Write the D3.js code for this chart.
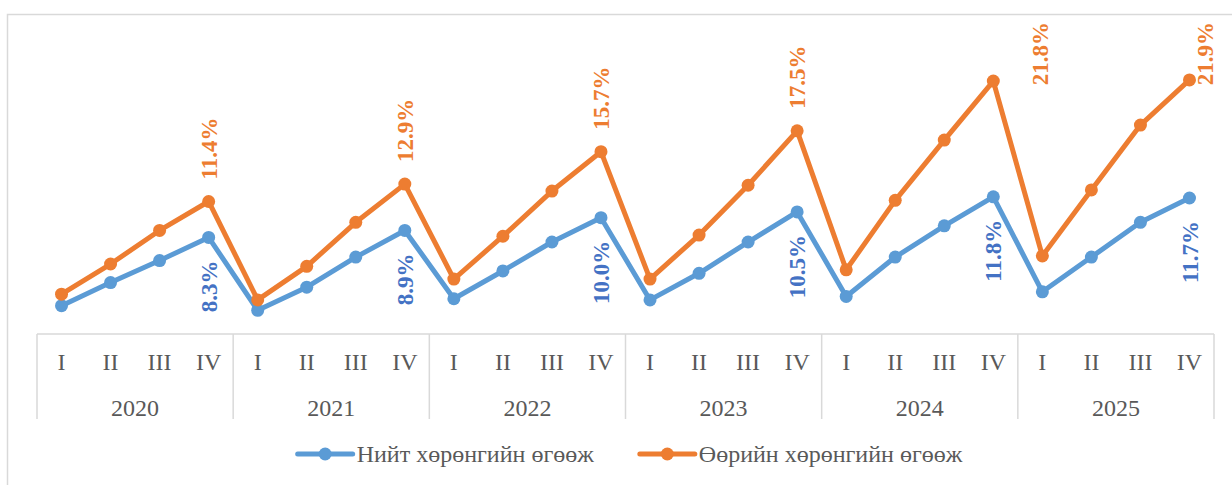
<!DOCTYPE html>
<html>
  <head>
    <meta charset="utf-8">
    <script src="https://unpkg.com/d3@7/dist/d3.min.js"></script>
    <style>
      body {
        margin: 0;
        background: #ffffff;
      }

      text {
        font-family: "Liberation Serif", "Times New Roman", serif;
      }

      .axis-label {
        fill: #595959;
        font-size: 24px;
        text-anchor: middle;
        dominant-baseline: central;
      }

      .grid {
        stroke: #d9d9d9;
        stroke-width: 1.5px;
        fill: none;
      }

      .series-line {
        fill: none;
        stroke-width: 5px;
        stroke-linejoin: round;
      }

      .value-label {
        font-size: 23px;
        font-weight: bold;
      }

      .legend-text {
        fill: #595959;
        font-size: 24px;
        dominant-baseline: central;
      }
    </style>
  </head>
  <body>
    <script>
      const years = ['2020', '2021', '2022', '2023', '2024', '2025'];
      const quarters = ['I', 'II', 'III', 'IV'];

      const totalAssets = [
        2.4, 4.4, 6.3, 8.3,
        2.0, 4.0, 6.6, 8.9,
        3.0, 5.4, 7.9, 10.0,
        2.9, 5.2, 7.9, 10.5,
        3.2, 6.6, 9.3, 11.8,
        3.6, 6.6, 9.6, 11.7
      ];

      const equity = [
        3.4, 6.0, 8.9, 11.4,
        2.9, 5.8, 9.6, 12.9,
        4.7, 8.4, 12.3, 15.7,
        4.7, 8.5, 12.8, 17.5,
        5.5, 11.5, 16.7, 21.8,
        6.7, 12.4, 18.0, 21.9
      ];

      const seriesNames = ['Нийт хөрөнгийн өгөөж', 'Өөрийн хөрөнгийн өгөөж'];
      const lineColors = ['#5b9bd5', '#ed7d31'];
      const labelColors = ['#4472c4', '#ed7d31'];

      const width = 1232;
      const height = 485;

      const plotLeft = 37;
      const plotRight = 1214;
      const plotTop = 22;
      const axisY = 334;

      const keys = [];
      years.forEach(y => quarters.forEach(q => keys.push(`${y}-${q}`)));

      const xScale = d3.scaleBand()
        .domain(keys)
        .range([plotLeft, plotRight]);

      const xYear = d3.scaleBand()
        .domain(years)
        .range([plotLeft, plotRight]);

      const yScale = d3.scaleLinear()
        .domain([0, 25])
        .range([333.5, 44]);

      const cx = i => xScale(keys[i]) + xScale.bandwidth() / 2;

      const svg = d3.select('body')
        .append('svg')
        .attr('width', width)
        .attr('height', height);

      // outer chart border
      svg.append('rect')
        .classed('grid', true)
        .attr('x', 7.5)
        .attr('y', 14.5)
        .attr('width', width + 20)
        .attr('height', height + 20);

      // category axis
      svg.append('line')
        .classed('grid', true)
        .attr('x1', plotLeft)
        .attr('x2', plotRight)
        .attr('y1', axisY)
        .attr('y2', axisY);

      const bounds = years.map(y => xYear(y)).concat([plotRight]);
      svg.selectAll('.sep').data(bounds)
        .enter()
        .append('line')
        .classed('grid', true)
        .attr('x1', d => d)
        .attr('x2', d => d)
        .attr('y1', axisY)
        .attr('y2', 419);

      svg.selectAll('.q-label').data(keys)
        .enter()
        .append('text')
        .classed('axis-label', true)
        .attr('x', d => xScale(d) + xScale.bandwidth() / 2)
        .attr('y', 362)
        .text(d => d.split('-')[1]);

      svg.selectAll('.y-label').data(years)
        .enter()
        .append('text')
        .classed('axis-label', true)
        .attr('x', d => xYear(d) + xYear.bandwidth() / 2)
        .attr('y', 408)
        .text(d => d);

      const line = d3.line()
        .x((d, i) => cx(i))
        .y(d => yScale(d));

      const allSeries = [totalAssets, equity];

      allSeries.forEach((values, s) => {
        svg.append('path')
          .datum(values)
          .classed('series-line', true)
          .attr('stroke', lineColors[s])
          .attr('d', line);

        svg.selectAll(null).data(values)
          .enter()
          .append('circle')
          .attr('cx', (d, i) => cx(i))
          .attr('cy', d => yScale(d))
          .attr('r', 6.5)
          .attr('fill', lineColors[s]);
      });

      // value labels on the fourth quarter of each year
      allSeries.forEach((values, s) => {
        values.forEach((v, i) => {
          if (i % 4 !== 3) return;
          const px = cx(i);
          const py = yScale(v);
          const label = svg.append('text')
            .classed('value-label', true)
            .attr('fill', labelColors[s])
            .attr('dy', '0.35em')
            .text(`${v.toFixed(1)}%`);
          const len = label.node().getComputedTextLength();
          let ax = px;
          let ay;
          if (s === 0) {
            ay = py + 23;
            label.attr('text-anchor', 'end');
          } else {
            ay = py - 22;
            if (ay - len < plotTop) {
              ay = plotTop + len;
              ax = Math.min(px + xScale.bandwidth() * 0.96, plotRight - 9);
            }
            label.attr('text-anchor', 'start');
          }
          label.attr('transform', `translate(${ax},${ay}) rotate(-90)`);
        });
      });

      // legend
      const legendY = 454;
      const legend = svg.append('g');
      let offset = 0;
      seriesNames.forEach((name, s) => {
        const g = legend.append('g')
          .attr('transform', `translate(${offset},0)`);
        g.append('line')
          .attr('x1', 0)
          .attr('x2', 55)
          .attr('y1', legendY)
          .attr('y2', legendY)
          .attr('stroke', lineColors[s])
          .attr('stroke-width', 5)
          .attr('stroke-linecap', 'round');
        g.append('circle')
          .attr('cx', 27.5)
          .attr('cy', legendY)
          .attr('r', 6.5)
          .attr('fill', lineColors[s]);
        const t = g.append('text')
          .classed('legend-text', true)
          .attr('x', 59)
          .attr('y', legendY)
          .text(name);
        offset += 59 + t.node().getComputedTextLength() + 46;
      });
      const legendWidth = offset - 46;
      legend.attr('transform', `translate(${630 - legendWidth / 2},0)`);
    </script>
  </body>
</html>
